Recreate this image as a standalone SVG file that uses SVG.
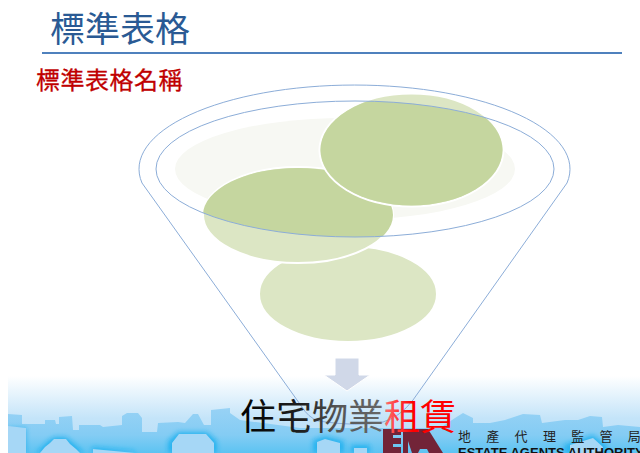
<svg xmlns="http://www.w3.org/2000/svg" width="640" height="453" viewBox="0 0 640 453">
<defs>
<style>
.cjk{font-family:"Liberation Sans","Noto Sans CJK TC",sans-serif}
.fun{fill:none;stroke:#8cadd8;stroke-width:1}
.pale{fill:#dce6c4;stroke:#fff;stroke-width:2}
.dark{fill:#c5d69f}
.fore{fill:#a6d7f6}
</style>
<linearGradient id="bg" x1="0" y1="0" x2="0" y2="1"><stop offset="0" stop-color="#fff"/><stop offset=".55" stop-color="#c4e4f9"/><stop offset="1" stop-color="#b4dcf7"/></linearGradient>
<linearGradient id="sil" gradientUnits="userSpaceOnUse" x1="0" y1="408" x2="0" y2="453"><stop offset="0" stop-color="#98d2f5"/><stop offset=".6" stop-color="#84ccf4"/><stop offset="1" stop-color="#5cc3f2"/></linearGradient>
<linearGradient id="lab" gradientUnits="userSpaceOnUse" x1="240" y1="0" x2="456" y2="0"><stop offset="0" stop-color="#000"/><stop offset=".3" stop-color="#222"/><stop offset=".45" stop-color="#555"/><stop offset=".65" stop-color="#666"/><stop offset=".68" stop-color="#f66"/><stop offset=".8" stop-color="#f00"/><stop offset="1" stop-color="#f00"/></linearGradient>
<filter id="glow" x="-20%" y="-40%" width="140%" height="180%"><feGaussianBlur stdDeviation="2.500"/></filter>
<clipPath id="inner"><ellipse cx="355" cy="169" rx="199" ry="68"/></clipPath>
<clipPath id="cut"><path d="M0 0H640V453H0Z M320 150a91.500 56 0 1 0 183 0a91.500 56 0 1 0-183 0Z" clip-rule="evenodd"/></clipPath>
<clipPath id="band"><rect x="8" y="376" width="632" height="77"/></clipPath>
</defs>
<rect width="640" height="453" fill="#fff"/>
<g id="banner" clip-path="url(#band)">
<rect x="8" y="376" width="632" height="77" fill="url(#bg)"/>
<path fill="url(#sil)" d="M8 414L22 415V424H45V420H55L56 424H59V417L72 416L73 430H79V425H100L103 427L122 425V416L127 413H138L142 418V432H157L158 423L178 422L185 423L193 414H198L204 425H211V410L230 408V413L240 420L300 428H440L455 418L463 413L473 418V423H490L505 420L523 414L540 415L542 423L565 420H578L590 416L602 417L603 427L618 425L640 427V453H8Z"/>
<g filter="url(#glow)" fill="#12aeee" opacity=".8">
<path d="M8 428L26 428V453H8Z M36 453L48 441L54 437H66L72 442L84 453Z M92 447L135 451V453H92Z M168 453V441L178 432H207L217 441V453Z M313 453V440L325 436L344 441V453Z M351 453V445H370V453Z M564 453V445L593 435L607 446V453Z"/>
</g>
<path class="fore" d="M8 426L26 428V453H8Z M40 453L45 447L50 443L54 439H66L70 444L76 449L80 453Z M93 449L135 453H93Z M172 453V443L179 434H206L214 443V453Z M317 453V442L325 439L340 443V453Z M354 453V448H367V453Z M570 453V445L593 438L603 447V453Z"/>
</g>
<g id="title">
<text class="cjk" x="50" y="42" font-size="35" fill="#2a5a94">標準表格</text>
<rect x="42" y="52" width="580" height="2" fill="#4f81bd"/>
<text class="cjk" x="36" y="89" font-size="24" fill="#c00000" stroke="#c00000" stroke-width=".3" letter-spacing=".5">標準表格名稱</text>
</g>
<g id="node-back"><ellipse cx="345" cy="169" rx="170" ry="51" fill="#f7f8f3"/></g>
<g id="node-bottom"><ellipse class="pale" cx="348" cy="294" rx="89" ry="48"/></g>
<g id="node-left"><g clip-path="url(#cut)"><ellipse class="pale" cx="298" cy="215" rx="95" ry="48"/><ellipse class="dark" cx="298" cy="215" rx="95" ry="47" clip-path="url(#inner)"/></g></g>
<g id="node-top"><ellipse class="pale" cx="411.500" cy="150" rx="92" ry="56.500"/><ellipse class="dark" cx="411.500" cy="150" rx="91" ry="55.500" clip-path="url(#inner)"/></g>
<g id="connectors">
<ellipse class="fun" cx="355" cy="169" rx="199" ry="68"/>
<path class="fun" d="M142 183A215.500 84 0 1 1 567 183L413 400Q400 417 383 422Q358 427 318 421Q308 417 302 407Z"/>
<path id="arrow" d="M335 358H359V375H370L347 391 324 375H335Z" fill="#d0d8e8" stroke="#fff" stroke-width="1"/>
</g>
<g id="logo">
<path d="M383 453V429H401V435H393V438H401V444H393V447H401V453Z M403 453V429H428L443 453H429L427 449H420L418 453H412L408 441V453Z" fill="#722438"/>
<text class="cjk" x="458 486.300 514.600 542.900 571.200 599.500 627.800" y="441" font-size="13" fill="#222">地產代理監管局</text>
<text class="cjk" x="458" y="456.500" font-size="13" font-weight="bold" fill="#111">ESTATE AGENTS AUTHORITY</text>
</g>
<g id="label"><text class="cjk" x="240" y="430" font-size="36" fill="url(#lab)">住宅物業租賃</text></g>
</svg>
